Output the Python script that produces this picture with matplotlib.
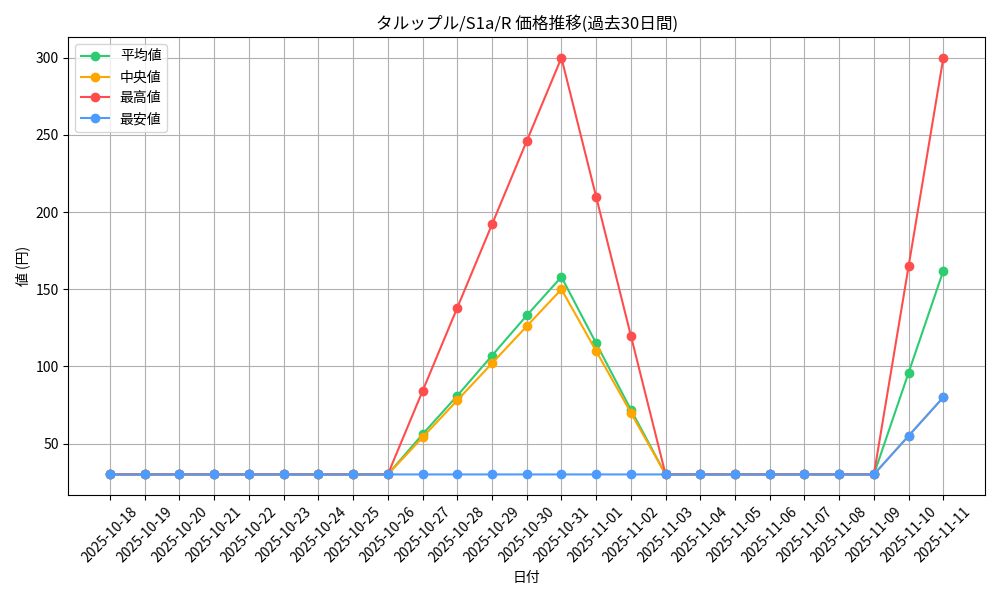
import matplotlib
matplotlib.use("Agg")
import matplotlib.pyplot as plt

plt.rcParams["font.family"] = ["Noto Sans CJK JP", "DejaVu Sans"]

DATES = [f"2025-10-{d}" for d in range(18, 32)] + [f"2025-11-{d:02d}" for d in range(1, 12)]
MEAN = [30] * 9 + [56, 81, 107, 133, 158, 115, 72] + [30] * 7 + [96, 162]
MEDIAN = [30] * 9 + [54, 78, 102, 126, 150, 110, 70] + [30] * 7 + [55, 80]
MAX = [30] * 9 + [84, 138, 192, 246, 300, 210, 120] + [30] * 7 + [165, 300]
MIN = [30] * 23 + [55, 80]

SERIES = [
    ("平均値", MEAN, "#2ecc71"),
    ("中央値", MEDIAN, "#ffa500"),
    ("最高値", MAX, "#ff4d4d"),
    ("最安値", MIN, "#4d9bff"),
]

fig, ax = plt.subplots(figsize=(10, 6), dpi=100)
for label, values, color in SERIES:
    ax.plot(DATES, values, marker="o", color=color, label=label)

ax.set_title("タルップル/S1a/R 価格推移(過去30日間)")
ax.set_xlabel("日付")
ax.set_ylabel("値 (円)")
ax.tick_params(axis="x", rotation=45)
ax.grid(True)
ax.legend(loc="upper left")

fig.tight_layout()
fig.savefig("out.png")
